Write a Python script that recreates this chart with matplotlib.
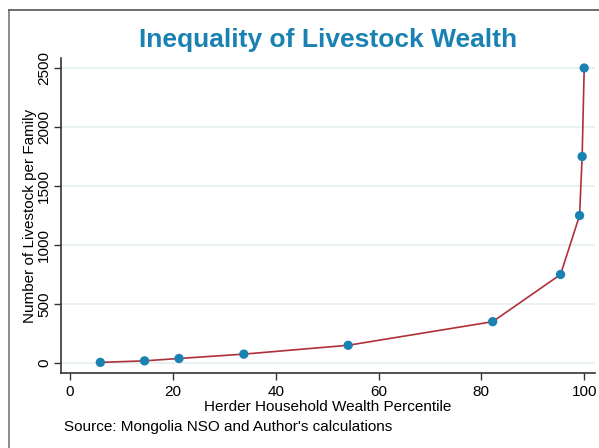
import matplotlib.pyplot as plt
from matplotlib.lines import Line2D

# data
percentile = [5.9, 14.5, 21.2, 33.8, 54.1, 82.2, 95.4, 99.1, 99.6, 100]
livestock = [5, 18, 38, 75, 150, 350, 750, 1250, 1750, 2500]
x_ticks = [0, 20, 40, 60, 80, 100]
y_ticks = [0, 500, 1000, 1500, 2000, 2500]

blue = '#1a82b3'
red = '#b0303a'

plt.rcParams['font.family'] = ['Liberation Sans', 'DejaVu Sans']

fig = plt.figure(figsize=(5.99, 4.48), dpi=100)
ax = fig.add_axes([61 / 599, 75 / 448, 534 / 599, 315 / 448])

ax.plot(percentile, livestock, color=red, lw=1.2, zorder=2)
ax.scatter(percentile, livestock, s=45, color=blue, zorder=3, edgecolors='none')

ax.set_xlim(-1.75, 102.1)
ax.set_ylim(-85, 2585)
ax.set_xticks(x_ticks)
ax.set_yticks(y_ticks)
ax.set_yticklabels([str(v) for v in y_ticks], rotation=90, va='center')
ax.tick_params(axis='both', labelsize=11, direction='out', length=5, color='#333333', width=1)
ax.tick_params(axis='y', pad=2)
ax.yaxis.grid(True, color='#e4eef0', lw=1.2)
ax.set_axisbelow(True)

for side in ['top', 'right']:
    ax.spines[side].set_visible(False)
for side in ['left', 'bottom']:
    ax.spines[side].set_color('#333333')
    ax.spines[side].set_linewidth(1.2)

ax.set_xlabel('Herder Household Wealth Percentile', fontsize=11, labelpad=1)
ax.set_ylabel('Number of Livestock per Family', fontsize=11, labelpad=0)

fig.text(0.547, 0.91, 'Inequality of Livestock Wealth', color=blue, fontsize=19,
         fontweight='bold', ha='center', va='center')
fig.text(64 / 599, 1 - 427 / 448, "Source: Mongolia NSO and Author's calculations",
         fontsize=11, ha='left', va='center')

# outer frame (cropped box)
fig.add_artist(Line2D([9 / 599, 9 / 599], [0, 1 - 10 / 448], color='#777777', lw=1.2))
fig.add_artist(Line2D([9 / 599, 1], [1 - 10 / 448, 1 - 10 / 448], color='#555555', lw=1.2))

fig.savefig('out.png', dpi=100)
